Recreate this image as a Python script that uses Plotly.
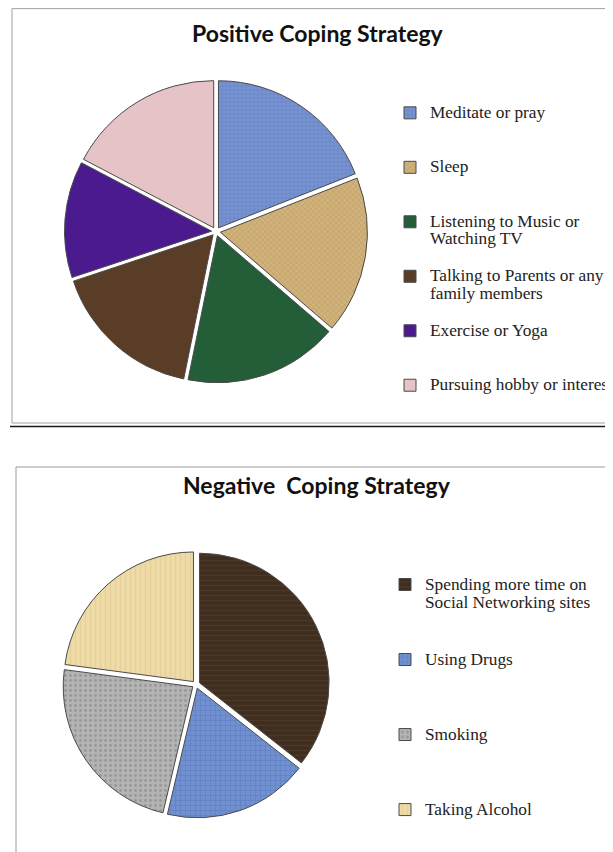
import plotly.graph_objects as go

# ---------------- data ----------------
pos_title = "Positive Coping Strategy"
pos_labels = [
    "Meditate or pray",
    "Sleep",
    "Listening to Music or<br>Watching TV",
    "Talking to Parents or any<br>family members",
    "Exercise or Yoga",
    "Pursuing hobby or interest",
]
pos_values = [19.0, 17.3, 16.9, 16.7, 12.8, 17.3]
pos_colors = ["#7893d2", "#d0b27a", "#245e38", "#5a3d27", "#4b1a8e", "#e6c3c7"]
pos_pattern_shapes = ["+", "x", "", "", "", ""]
pos_pattern_fg = ["#5272b8", "#a98b52", "#245e38", "#5a3d27", "#4b1a8e", "#e6c3c7"]

neg_title = "Negative\u00a0 Coping Strategy"
neg_labels = [
    "Spending more time on<br>Social Networking sites",
    "Using Drugs",
    "Smoking",
    "Taking Alcohol",
]
neg_values = [35.6, 18.1, 23.4, 22.9]
neg_colors = ["#3f2d1f", "#7190d0", "#b4b4b4", "#eedba6"]
neg_pattern_shapes = ["-", "+", ".", "|"]
neg_pattern_fg = ["#5a4431", "#4f6fb5", "#7a7a7a", "#dcc58c"]

# The page puts the figure at an 8px offset, so the figure is 8px smaller
OFF = 8
W, H = 613 - OFF, 852 - OFF


def py(p):
    """screen pixel y (from top) -> paper y"""
    return 1 - (p - OFF) / H


def px(p):
    """screen pixel x -> paper x"""
    return (p - OFF) / W


def legend_text(label, n_lines, size):
    parts = label.split("<br>")
    lines = ['<span style="font-size:%spx">%s</span>' % (size, s) for s in parts]
    while len(lines) < n_lines:
        lines.append("\u00a0")
    return "<br>".join(lines)


pos_disp = [legend_text(l, 3, 17.3) for l in pos_labels]
neg_disp = [legend_text(l, 4, 17.3) for l in neg_labels]

fig = go.Figure()

fig.add_trace(go.Pie(
    labels=pos_disp,
    values=pos_values,
    sort=False,
    direction="clockwise",
    rotation=0,
    pull=[0.03] * len(pos_values),
    textinfo="none",
    hoverinfo="skip",
    marker=dict(
        colors=pos_colors,
        line=dict(color="#4a4a4a", width=1),
        pattern=dict(shape=pos_pattern_shapes, fgcolor=pos_pattern_fg,
                     size=4, solidity=0.3, fillmode="overlay"),
    ),
    domain=dict(x=[px(63), px(369)], y=[py(383), py(80)]),
    legend="legend",
))

fig.add_trace(go.Pie(
    labels=neg_disp,
    values=neg_values,
    sort=False,
    direction="clockwise",
    rotation=0,
    pull=[0.03] * len(neg_values),
    textinfo="none",
    hoverinfo="skip",
    marker=dict(
        colors=neg_colors,
        line=dict(color="#4a4a4a", width=1),
        pattern=dict(shape=neg_pattern_shapes, fgcolor=neg_pattern_fg,
                     size=5, solidity=0.25, fillmode="overlay"),
    ),
    domain=dict(x=[px(62), px(330)], y=[py(818), py(551)]),
    legend="legend2",
))

shapes = [
    # top chart frame
    dict(type="rect", xref="paper", yref="paper",
         x0=px(12), x1=px(640), y0=py(423), y1=py(8.6),
         line=dict(color="#a0a0a0", width=1), fillcolor="rgba(0,0,0,0)"),
    # dark separator line
    dict(type="line", xref="paper", yref="paper",
         x0=px(10), x1=1.05, y0=py(426.5), y1=py(426.5),
         line=dict(color="#1a1a1a", width=1.5)),
    # bottom chart frame
    dict(type="rect", xref="paper", yref="paper",
         x0=px(16), x1=px(640), y0=py(880), y1=py(467),
         line=dict(color="#9a9a9a", width=1), fillcolor="rgba(0,0,0,0)"),
]

annotations = [
    dict(text="<b>%s</b>" % pos_title, x=px(318), y=py(33), xref="paper", yref="paper",
         xanchor="center", yanchor="middle", showarrow=False,
         font=dict(family="Lato, Open Sans, sans-serif", size=23, color="#111")),
    dict(text="<b>%s</b>" % neg_title, x=px(317), y=py(485), xref="paper", yref="paper",
         xanchor="center", yanchor="middle", showarrow=False,
         font=dict(family="Lato, Open Sans, sans-serif", size=23, color="#111")),
]

fig.update_layout(
    width=W, height=H,
    margin=dict(l=0, r=0, t=0, b=0, autoexpand=False),
    paper_bgcolor="white",
    plot_bgcolor="white",
    shapes=shapes,
    annotations=annotations,
    legend=dict(
        x=px(390), y=py(97.75), xanchor="left", yanchor="top",
        font=dict(family="Liberation Serif, Times New Roman, serif", size=13.2, color="#222"),
        valign="top", bgcolor="rgba(0,0,0,0)", borderwidth=0,
    ),
    legend2=dict(
        x=px(385), y=py(569), xanchor="left", yanchor="top",
        font=dict(family="Liberation Serif, Times New Roman, serif", size=13.85, color="#222"),
        valign="top", bgcolor="rgba(0,0,0,0)", borderwidth=0,
    ),
)

fig.write_html("out.html")
